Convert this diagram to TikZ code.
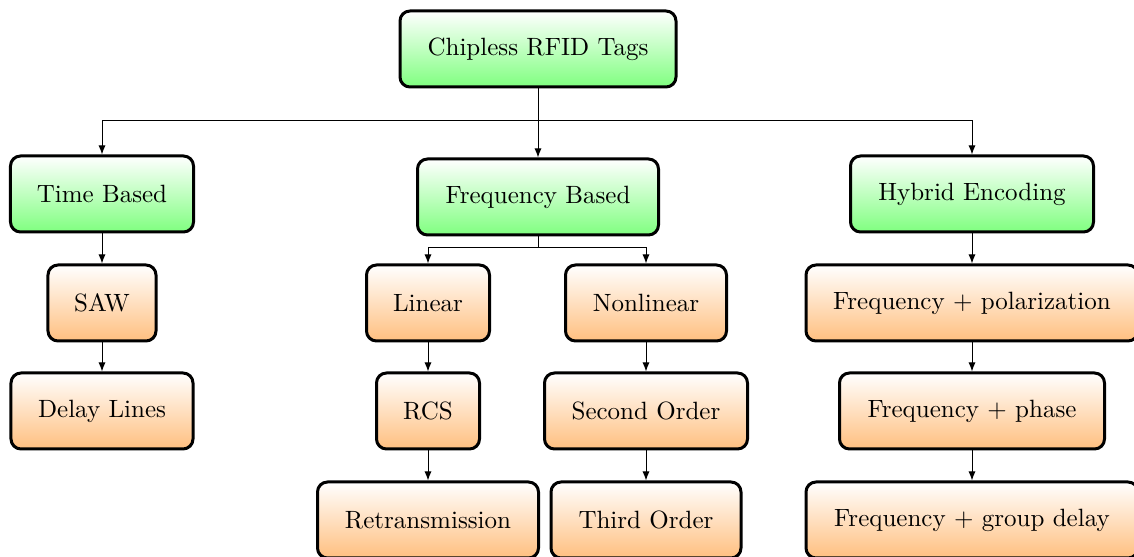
\documentclass[tikz,border=0pt]{standalone}
\usetikzlibrary{arrows.meta}
\begin{document}
\begin{tikzpicture}[x=0.4pt,y=-0.4pt,
  box/.style={draw=black, line width=1.2pt, rounded corners=4pt,
    minimum height=30.4pt, inner xsep=10pt, align=center, font=\normalsize},
  catbox/.style={box, top color=white, bottom color=green!50},
  subbox/.style={box, top color=white, bottom color=orange!50},
  link/.style={line width=0.4pt, -{Latex[length=3.6pt,width=2.8pt]}},
  plain/.style={line width=0.4pt}]
\useasboundingbox (0,0) rectangle (1134,557);
\clip (0,0) rectangle (1134,557);

% root and the three encoding families
\node[catbox, minimum width=110.4pt] (root) at (538,49) {Chipless RFID Tags};
\node[catbox, minimum width=73.2pt] (time) at (102,194) {Time Based};
\node[catbox, minimum width=96.4pt] (freq) at (538,197) {Frequency Based};
\node[catbox, minimum width=97.2pt] (hyb) at (972,194) {Hybrid Encoding};

% time based branch
\node[subbox, minimum width=43.2pt] (saw) at (102,303) {SAW};
\node[subbox, minimum width=72.8pt] (delay) at (102,411) {Delay Lines};

% frequency based branch
\node[subbox, minimum width=49.2pt] (lin) at (428,303) {Linear};
\node[subbox, minimum width=64.4pt] (nonlin) at (646,303) {Nonlinear};
\node[subbox, minimum width=41.2pt] (rcs) at (428,411) {RCS};
\node[subbox, minimum width=81.2pt] (second) at (646,411) {Second Order};
\node[subbox, minimum width=88.4pt] (retx) at (428,520) {Retransmission};
\node[subbox, minimum width=76pt] (third) at (646,520) {Third Order};

% hybrid branch
\node[subbox, minimum width=132.8pt] (fpol) at (972,303) {Frequency + polarization};
\node[subbox, minimum width=106pt] (fph) at (972,411) {Frequency + phase};
\node[subbox, minimum width=132.8pt] (fgd) at (972,520) {Frequency + group delay};

% bus from the root
\coordinate (rbus) at (538,121);
\draw[plain] (root.south) -- (rbus);
\draw[link] (rbus) -| (time.north);
\draw[link] (rbus) -| (hyb.north);
\draw[link] (rbus) -- (freq.north);

% bus under frequency based
\coordinate (fbus) at (538,248);
\draw[plain] (freq.south) -- (fbus);
\draw[link] (fbus) -| (lin.north);
\draw[link] (fbus) -| (nonlin.north);

% chains
\draw[link] (time) -- (saw);
\draw[link] (saw) -- (delay);
\draw[link] (lin) -- (rcs);
\draw[link] (rcs) -- (retx);
\draw[link] (nonlin) -- (second);
\draw[link] (second) -- (third);
\draw[link] (hyb) -- (fpol);
\draw[link] (fpol) -- (fph);
\draw[link] (fph) -- (fgd);
\end{tikzpicture}
\end{document}
